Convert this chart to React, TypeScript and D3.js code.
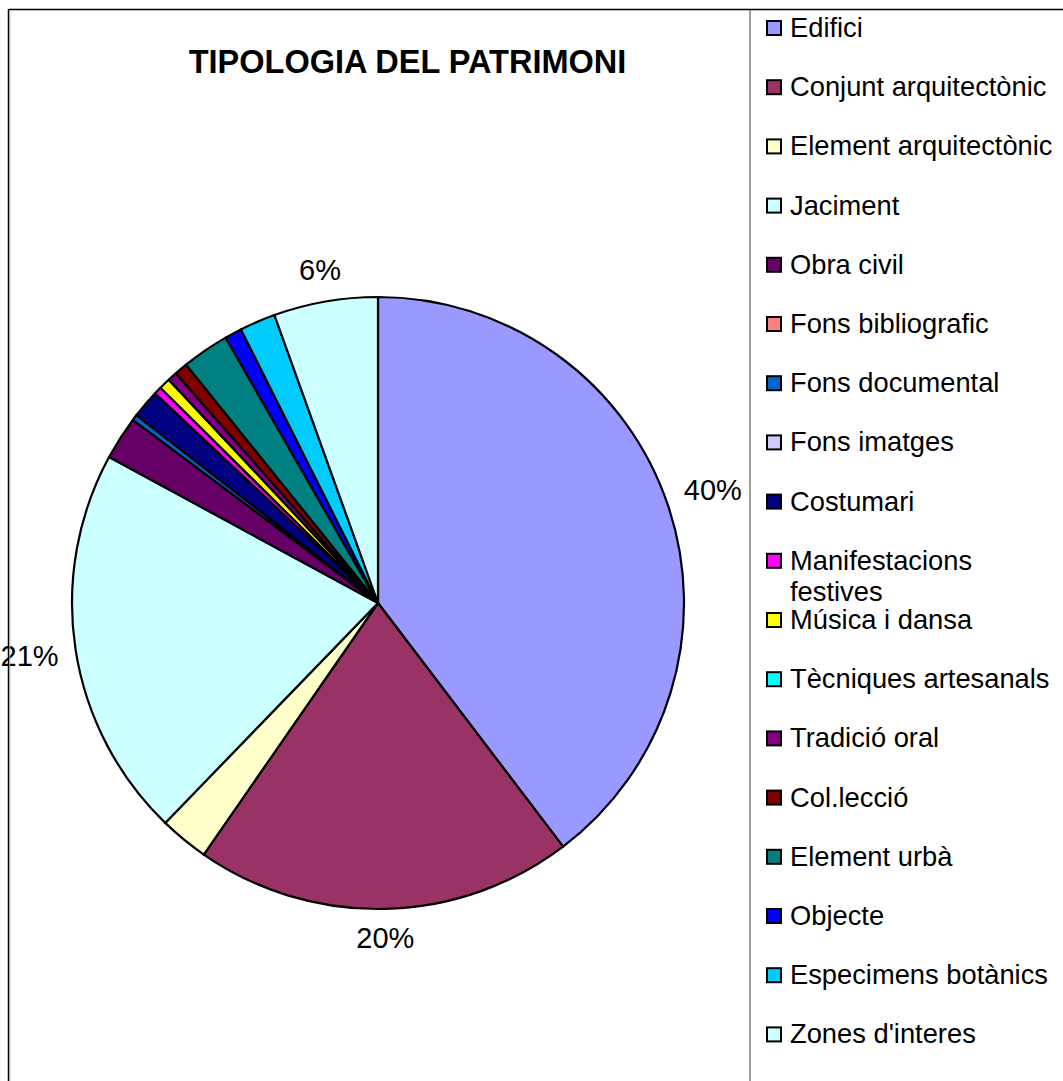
import React from "react";
import * as d3 from "d3";

const categories = [
  "Edifici",
  "Conjunt arquitectònic",
  "Element arquitectònic",
  "Jaciment",
  "Obra civil",
  "Fons bibliografic",
  "Fons documental",
  "Fons imatges",
  "Costumari",
  "Manifestacions festives",
  "Música i dansa",
  "Tècniques artesanals",
  "Tradició oral",
  "Col.lecció",
  "Element urbà",
  "Objecte",
  "Especimens botànics",
  "Zones d'interes",
];

const values = [39.7, 20.0, 2.6, 20.7, 2.3, 0, 0.3, 0, 1.5, 0.4, 0.6, 0, 0.5, 0.7, 2.5, 0.9, 1.9, 5.5];

const colors = [
  "#9999FF", "#993366", "#FFFFCC", "#CCFFFF", "#660066", "#FF8080",
  "#0066CC", "#CCCCFF", "#000080", "#FF00FF", "#FFFF00", "#00FFFF",
  "#800080", "#800000", "#008080", "#0000FF", "#00CCFF", "#CCFFFF",
];

const shownLabels = ["40%", "20%", "", "21%", "", "", "", "", "", "", "", "", "", "", "", "", "", "6%"];

const title = "TIPOLOGIA DEL PATRIMONI";

export default function App() {
  const W = 1063, H = 1081;
  const cx = 378, cy = 603, r = 306;
  const pie = d3.pie<number>().sort(null).value((d) => d);
  const arcs = pie(values);
  const arc = d3.arc<d3.PieArcDatum<number>>().innerRadius(0).outerRadius(r);
  const labelFont = 29;
  const gap = 16;

  const legendX = 766;
  const legendBase0 = 37;
  const legendStep = 59.2;
  const font = "'Liberation Sans', Arial, sans-serif";

  return (
    <svg width={W} height={H} style={{ position: "absolute", left: 0, top: 0 }} fontFamily={font}>
      <rect x={0} y={0} width={W} height={H} fill="#fff" />
      <text x={407.5} y={72.5} textAnchor="middle" fontWeight="bold" fontSize={32.5} fill="#000">{title}</text>
      <g transform={`translate(${cx},${cy})`}>
        {arcs.map((a, i) =>
          a.value > 0 ? (
            <path key={i} d={arc(a) || ""} fill={colors[i]} stroke="#000" strokeWidth={2.2} strokeLinejoin="round" />
          ) : null
        )}
        {arcs.map((a, i) => {
          const lbl = shownLabels[i];
          if (!lbl) return null;
          const mid = (a.startAngle + a.endAngle) / 2;
          const halfW = (lbl.length === 3 ? 2.0 : 1.445) * labelFont / 2;
          const halfH = labelFont * 0.42;
          const dist = r + gap + Math.abs(Math.sin(mid)) * halfW + Math.abs(Math.cos(mid)) * halfH;
          const lx = Math.sin(mid) * dist;
          const ly = -Math.cos(mid) * dist;
          return (
            <text key={"l" + i} x={lx} y={ly} textAnchor="middle" dominantBaseline="central" fontSize={labelFont} fill="#000">
              {lbl}
            </text>
          );
        })}
      </g>
      {categories.map((c, i) => {
        const base = legendBase0 + i * legendStep;
        const words = c === "Manifestacions festives" ? ["Manifestacions", "festives"] : [c];
        return (
          <g key={c}>
            <rect x={legendX + 1} y={base - 16} width={14} height={14} fill={colors[i]} stroke="#000" strokeWidth={2} />
            <text x={790} y={base} fontSize={27.3} fill="#000">
              {words.map((w, j) => (
                <tspan key={j} x={790} dy={j === 0 ? 0 : 31.3}>{w}</tspan>
              ))}
            </text>
          </g>
        );
      })}
      <line x1={750} y1={10} x2={750} y2={H} stroke="#808080" strokeWidth={1.5} />
      <line x1={8.5} y1={9.5} x2={W} y2={9.5} stroke="#000" strokeWidth={1.5} />
      <line x1={8.5} y1={9.5} x2={8.5} y2={H} stroke="#000" strokeWidth={1.5} />
      <line x1={9.8} y1={10.5} x2={9.8} y2={H} stroke="#aaa" strokeWidth={1} />
    </svg>
  );
}
